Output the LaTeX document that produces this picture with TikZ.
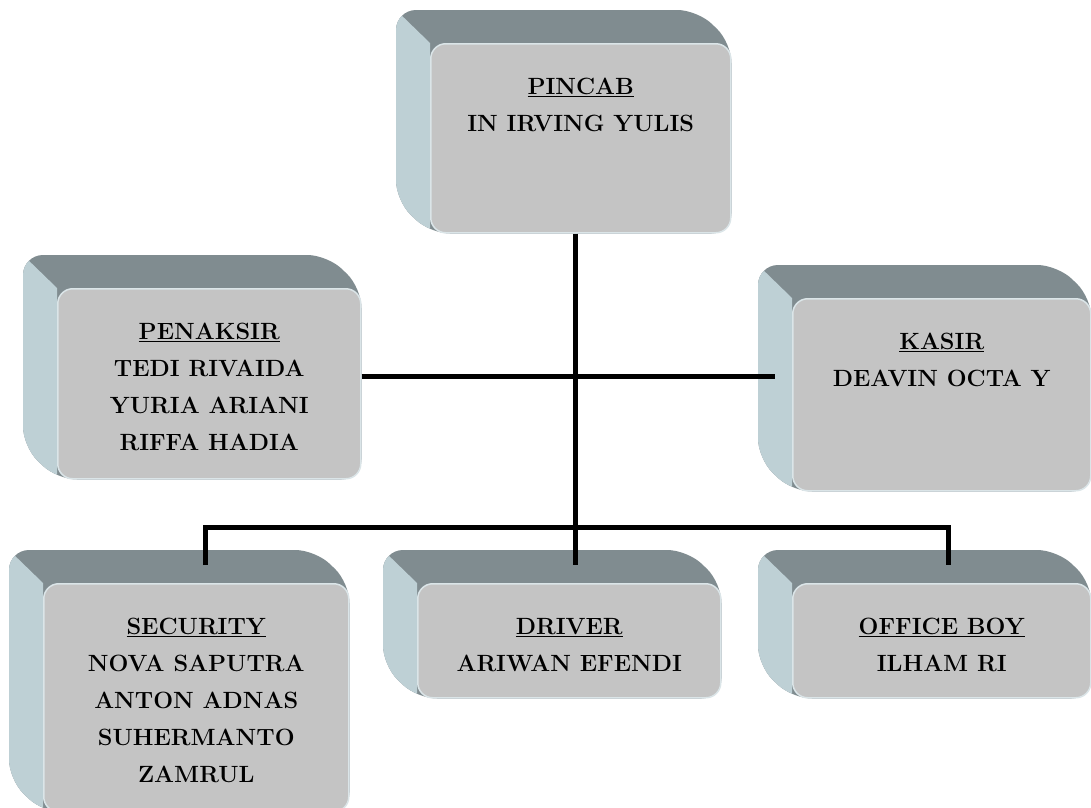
\documentclass[tikz,border=0pt]{standalone}
\usepackage{tikz}
\usetikzlibrary{positioning,calc,backgrounds}
\definecolor{facegray}{HTML}{C4C4C4}
\definecolor{topgray}{HTML}{808C90}
\definecolor{sideblue}{HTML}{BED0D5}
\tikzset{%
  face/.style     = {draw=sideblue!55!white, line width=1.5pt, fill=facegray,
    rounded corners=15pt, anchor=north west, inner sep=0pt}, % front of a box
  names/.style    = {align=center, inner sep=0pt,
    font=\fontsize{23.5}{37}\selectfont\bfseries}, % title and names
  link/.style     = {line width=5pt, black} % connector
}
% top and left side of a box, behind its front
\newcommand{\backface}[1]{%
  \fill[topgray, rounded corners=20pt] ($(#1.north west)+(-34,-33)$) -- ($(#1.north east)+(-34,-33)$)
    -- (#1.north east) -- (#1.south east) -- (#1.south west) -- ($(#1.south west)+(-34,-33)$) -- cycle;
  \begin{scope}
    \clip[rounded corners=20pt] ($(#1.north west)+(-34,-33)$) -- ($(#1.north east)+(-34,-33)$)
      -- (#1.north east) -- (#1.south east) -- (#1.south west) -- ($(#1.south west)+(-34,-33)$) -- cycle;
    \fill[sideblue] ($(#1.north west)+(-68,-66)$) -- (#1.north west) -- (#1.south west)
      -- ($(#1.south west)+(-90,0)$) -- cycle;
  \end{scope}}

\begin{document}
\begin{tikzpicture}[x=1pt, y=-1pt]
  \useasboundingbox (0,0) rectangle (1091,807);

  \node[face, minimum width=300pt, minimum height=189pt] (pincab) at (430,43) {};
  \node[face, minimum width=303pt, minimum height=190pt] (penaksir) at (57,288) {};
  \node[face, minimum width=298pt, minimum height=192pt] (kasir) at (792,298) {};
  \node[face, minimum width=305pt, minimum height=228pt] (security) at (43,583) {};
  \node[face, minimum width=303pt, minimum height=114pt] (driver) at (417,583) {};
  \node[face, minimum width=298pt, minimum height=114pt] (officeboy) at (792,583) {};

  \node[names, below=35pt of pincab.north] (pincabtxt) {\underline{PINCAB}\\IN IRVING YULIS};
  \node[names, below=35pt of penaksir.north] (penaksirtxt) {\underline{PENAKSIR}\\TEDI RIVAIDA\\YURIA ARIANI\\RIFFA HADIA};
  \node[names, below=35pt of kasir.north] (kasirtxt) {\underline{KASIR}\\DEAVIN OCTA Y};
  \node[names, below=35pt of security.north] (securitytxt) {\underline{SECURITY}\\NOVA SAPUTRA\\ANTON ADNAS\\SUHERMANTO\\ZAMRUL};
  \node[names, below=35pt of driver.north] (drivertxt) {\underline{DRIVER}\\ARIWAN EFENDI};
  \node[names, below=35pt of officeboy.north] (officeboytxt) {\underline{OFFICE BOY}\\ILHAM RI};

  \begin{scope}[on background layer]
    \foreach \n in {pincab, penaksir, kasir, security, driver, officeboy}
      {\backface{\n}}
  \end{scope}

  \coordinate (hub) at (575,376);
  \coordinate (bar) at (575,527);
  \coordinate (kasirend) at (775,376);
  \coordinate (secdrop) at (205,565);
  \coordinate (drvdrop) at (575,565);
  \coordinate (offdrop) at (948,565);

  \draw[link] (bar |- pincab.south) -- (bar);
  \draw[link] (penaksir.east |- hub) -- (kasirend);
  \draw[link] (secdrop) -- (secdrop |- bar) -- (offdrop |- bar) -- (offdrop);
  \draw[link] (bar) -- (drvdrop);
\end{tikzpicture}
\end{document}
